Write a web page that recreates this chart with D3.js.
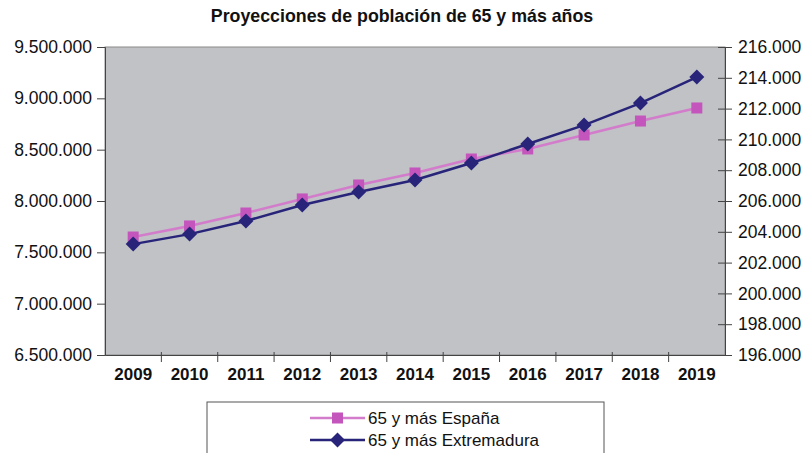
<!DOCTYPE html>
<html>
<head>
<meta charset="utf-8">
<script src="https://cdn.jsdelivr.net/npm/d3@7"></script>
<style>
  html, body { margin: 0; padding: 0; background: #ffffff; }
  svg { display: block; }
</style>
</head>
<body>
<svg id="chart" width="809" height="453"></svg>
<script>
// Years on the category axis
const years = ["2009", "2010", "2011", "2012", "2013", "2014", "2015", "2016", "2017", "2018", "2019"];

// Population aged 65+ : Spain (left axis) and Extremadura (right axis)
const espana = [7649000, 7757000, 7883000, 8020000, 8156000, 8273000, 8409000, 8507000, 8643000, 8779000, 8906000];
const extremadura = [203200, 203850, 204700, 205740, 206580, 207360, 208470, 209700, 210930, 212360, 214050];

// Axis ticks
const leftTicks = [6500000, 7000000, 7500000, 8000000, 8500000, 9000000, 9500000];
const rightTicks = [196000, 198000, 200000, 202000, 204000, 206000, 208000, 210000, 212000, 214000, 216000];

const seriesNames = ["65 y más España", "65 y más Extremadura"];

const fmt = d => d3.format(",")(d).replace(/,/g, ".");

const svg = d3.select("#chart");
const plot = { left: 105, right: 725, top: 47, bottom: 355 };

const x = d3.scaleBand().domain(years).range([plot.left, plot.right]);
const yL = d3.scaleLinear().domain([6500000, 9500000]).range([plot.bottom, plot.top]);
const yR = d3.scaleLinear().domain([196000, 216000]).range([plot.bottom, plot.top]);

const colEsp = "#c455bd";
const colEspLine = "#d27ccb";
const colExt = "#27247a";

// Title
svg.append("text")
  .attr("x", 402).attr("y", 22)
  .attr("text-anchor", "middle")
  .style("font-family", "'Liberation Sans', Arial, sans-serif")
  .style("font-weight", "bold")
  .style("font-size", "17.8px")
  .style("fill", "#111")
  .text("Proyecciones de población de 65 y más años");

// Plot background
svg.append("rect")
  .attr("x", plot.left).attr("y", plot.top)
  .attr("width", plot.right - plot.left).attr("height", plot.bottom - plot.top)
  .attr("fill", "#c0c2c5")
  .attr("stroke", "#8a8a8a").attr("stroke-width", 1);

const axisFont = sel => sel.selectAll("text")
  .style("font-family", "'Liberation Sans', Arial, sans-serif")
  .style("font-size", "17.5px")
  .style("fill", "#111");

// Left axis
const gL = svg.append("g").attr("transform", `translate(${plot.left},0)`)
  .call(d3.axisLeft(yL).tickValues(leftTicks).tickFormat(fmt).tickSize(8).tickPadding(5));
gL.call(axisFont);
gL.select(".domain").attr("stroke", "#444");
gL.selectAll(".tick line").attr("stroke", "#444");

// Right axis with ticks crossing the line
const gR = svg.append("g").attr("transform", `translate(${plot.right},0)`)
  .call(d3.axisRight(yR).tickValues(rightTicks).tickFormat(fmt).tickSize(7).tickPadding(6));
gR.call(axisFont);
gR.select(".domain").attr("stroke", "#444");
gR.selectAll(".tick line").attr("x1", -7).attr("stroke", "#444");

// Bottom axis: labels at band centres, tick marks at band boundaries
const gB = svg.append("g").attr("transform", `translate(0,${plot.bottom})`)
  .call(d3.axisBottom(x).tickSize(0).tickPadding(13));
gB.select(".domain").attr("stroke", "#444");
gB.selectAll("text")
  .style("font-family", "'Liberation Sans', Arial, sans-serif")
  .style("font-weight", "bold")
  .style("font-size", "17px")
  .style("fill", "#111");
gB.selectAll(".bound")
  .data(years.slice(1))
  .enter().append("line")
  .attr("class", "bound")
  .attr("x1", d => x(d)).attr("x2", d => x(d))
  .attr("y1", -3).attr("y2", 7)
  .attr("stroke", "#444");

const cx = d => x(d) + x.bandwidth() / 2;

// Diamond marker: a square rotated by 45 degrees
const diamondPath = "M0,-7.5L7.5,0L0,7.5L-7.5,0Z";

// España series (left axis)
svg.append("path")
  .datum(espana)
  .attr("fill", "none")
  .attr("stroke", colEspLine)
  .attr("stroke-width", 2.5)
  .attr("d", d3.line().x((d, i) => cx(years[i])).y(d => yL(d)));

svg.selectAll(".sq")
  .data(espana)
  .enter().append("rect")
  .attr("class", "sq")
  .attr("x", (d, i) => cx(years[i]) - 5.5)
  .attr("y", d => yL(d) - 5.5)
  .attr("width", 11).attr("height", 11)
  .attr("fill", colEsp);

// Extremadura series (right axis)
svg.append("path")
  .datum(extremadura)
  .attr("fill", "none")
  .attr("stroke", colExt)
  .attr("stroke-width", 2.5)
  .attr("d", d3.line().x((d, i) => cx(years[i])).y(d => yR(d)));

svg.selectAll(".dm")
  .data(extremadura)
  .enter().append("path")
  .attr("class", "dm")
  .attr("transform", (d, i) => `translate(${cx(years[i])},${yR(d)})`)
  .attr("d", diamondPath)
  .attr("fill", colExt);

// Legend
const lg = svg.append("g");
lg.append("rect")
  .attr("x", 207).attr("y", 402)
  .attr("width", 397).attr("height", 70)
  .attr("fill", "#fff")
  .attr("stroke", "#555").attr("stroke-width", 1);

const legendRows = [
  { name: seriesNames[0], color: colEsp, line: colEspLine, shape: "square", y: 418 },
  { name: seriesNames[1], color: colExt, line: colExt, shape: "diamond", y: 440 }
];
legendRows.forEach(r => {
  lg.append("line")
    .attr("x1", 310).attr("x2", 365)
    .attr("y1", r.y).attr("y2", r.y)
    .attr("stroke", r.line).attr("stroke-width", 2.5);
  if (r.shape === "square") {
    lg.append("rect")
      .attr("x", 332).attr("y", r.y - 5.5)
      .attr("width", 11).attr("height", 11)
      .attr("fill", r.color);
  } else {
    lg.append("path")
      .attr("transform", `translate(337.5,${r.y})`)
      .attr("d", diamondPath)
      .attr("fill", r.color);
  }
  lg.append("text")
    .attr("x", 368).attr("y", r.y + 6)
    .style("font-family", "'Liberation Sans', Arial, sans-serif")
    .style("font-size", "17px")
    .style("fill", "#111")
    .text(r.name);
});
</script>
</body>
</html>
